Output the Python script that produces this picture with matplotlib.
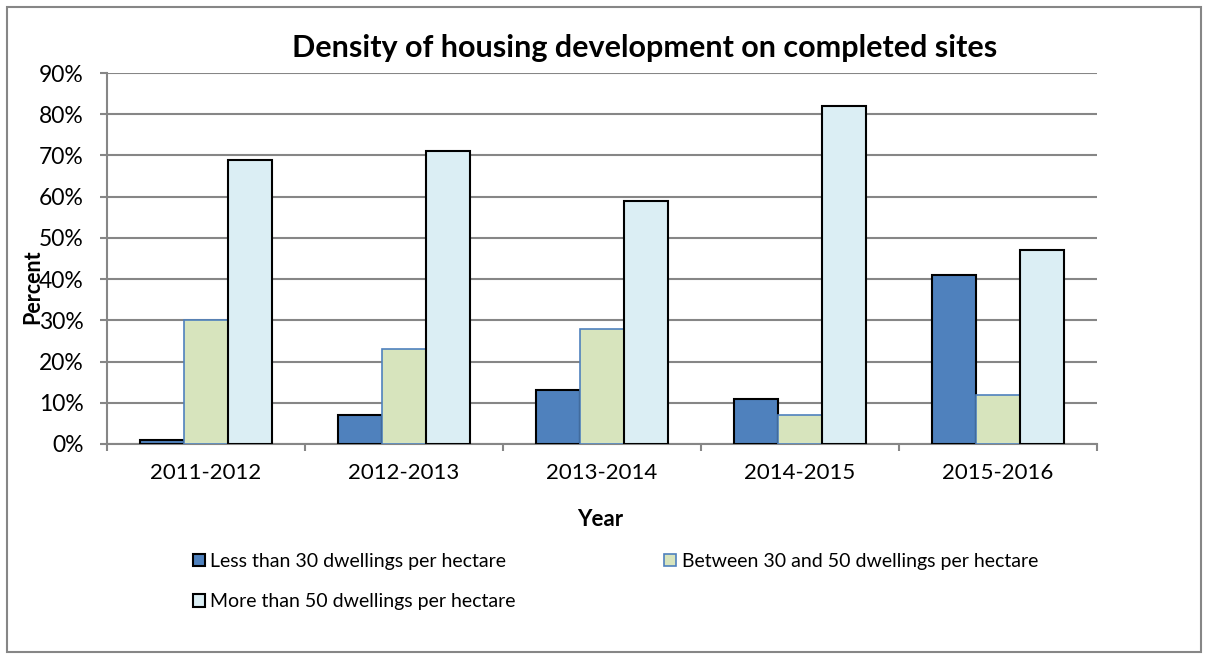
import matplotlib.pyplot as plt
import matplotlib.patches as mpatches
import numpy as np

years = ["2011-2012", "2012-2013", "2013-2014", "2014-2015", "2015-2016"]
less_30 = [1, 7, 13, 11, 41]
between_30_50 = [30, 23, 28, 7, 12]
more_50 = [69, 71, 59, 82, 47]
labels = ["Less than 30 dwellings per hectare",
          "Between 30 and 50 dwellings per hectare",
          "More than 50 dwellings per hectare"]

plt.rcParams['font.family'] = ['Lato', 'DejaVu Sans']
grid_col = "#868686"

fig = plt.figure(figsize=(12.09, 6.6), dpi=100)
ax = fig.add_axes([107 / 1209, 1 - 444 / 660, 990 / 1209, 371 / 660])

x = np.arange(len(years))
w = 1 / 4.5
ax.bar(x - w, less_30, w, color="#4F81BD", edgecolor="black", linewidth=1.5, zorder=3)
ax.bar(x, between_30_50, w, color="#D7E4BD", edgecolor="#4F81BD", linewidth=1.2, zorder=3)
ax.bar(x + w, more_50, w, color="#DBEEF4", edgecolor="black", linewidth=1.5, zorder=3)

ax.set_xlim(-0.5, 4.5)
ax.set_ylim(0, 90)
ax.set_yticks(range(0, 91, 10))
ax.set_yticklabels([f"{v}%" for v in range(0, 91, 10)], fontsize=16.5)
ax.yaxis.grid(True, color=grid_col, linewidth=1.5, zorder=0)
ax.set_xticks(x)
ax.set_xticklabels(years, fontsize=16)
ax.set_xticks(np.arange(-0.5, 5, 1), minor=True)
ax.tick_params(axis="x", which="major", length=0, pad=14)
ax.tick_params(axis="x", which="minor", length=5, width=1.5, color=grid_col)
ax.tick_params(axis="y", length=5, width=1.5, color=grid_col, pad=12)
for s in ["top", "right"]:
    ax.spines[s].set_visible(False)
for s in ["left", "bottom"]:
    ax.spines[s].set_color(grid_col)
    ax.spines[s].set_linewidth(1.5)

fig.text(645 / 1209, 1 - 48 / 660, "Density of housing development on completed sites",
         ha="center", va="center", fontsize=22, fontweight="bold")
fig.text(33 / 1209, 1 - 287 / 660, "Percent", ha="center", va="center", fontsize=15.5,
         fontweight="bold", rotation=90)
fig.text(600 / 1209, 1 - 520 / 660, "Year", ha="center", va="center", fontsize=16, fontweight="bold")

h1 = mpatches.Patch(facecolor="#4F81BD", edgecolor="black", linewidth=1.5)
h2 = mpatches.Patch(facecolor="#D7E4BD", edgecolor="#4F81BD", linewidth=1.2)
h3 = mpatches.Patch(facecolor="#DBEEF4", edgecolor="black", linewidth=1.5)
leg_kw = dict(frameon=False, fontsize=14, handlelength=0.6, handleheight=0.6,
              handletextpad=0.3, labelspacing=1.2, borderaxespad=0, borderpad=0)
fig.legend([h1, h3], [labels[0], labels[2]], loc="upper left",
           bbox_to_anchor=(193 / 1209, 1 - 553 / 660), **leg_kw)
fig.legend([h2], [labels[1]], loc="upper left",
           bbox_to_anchor=(664 / 1209, 1 - 553 / 660), **leg_kw)

fig.patches.append(mpatches.Rectangle((7 / 1209, 8 / 660), 1194 / 1209, 645 / 660,
                                      transform=fig.transFigure, fill=False,
                                      edgecolor="#868686", linewidth=1.5))

fig.savefig("out.png", dpi=100)
